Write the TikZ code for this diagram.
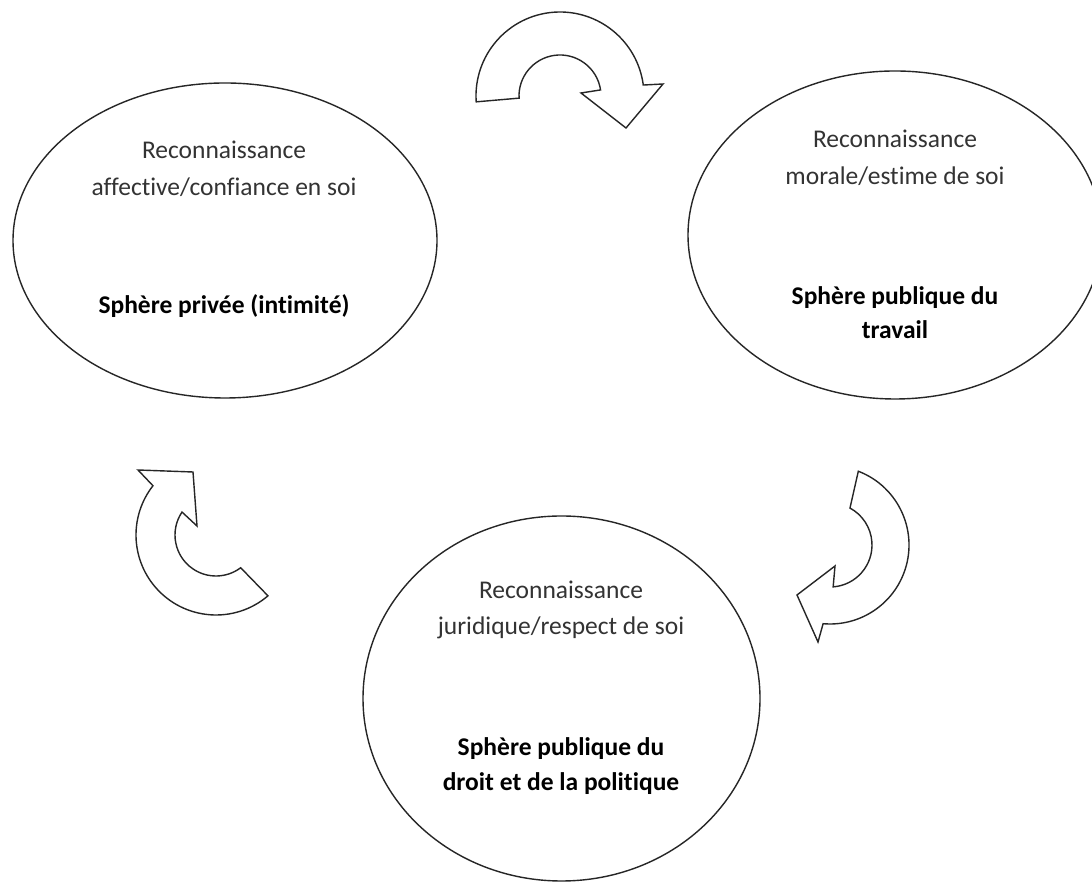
\documentclass[tikz,border=0pt]{standalone}
\usepackage{fontspec}
\setmainfont{Carlito}[Ligatures=NoCommon]
\usetikzlibrary{shapes.geometric}
\begin{document}
\begin{tikzpicture}[x=1pt,y=1pt,
  sphere/.style={draw=black!85, line width=1.4pt, ellipse, inner sep=0pt},
  lighttext/.style={anchor=base, inner sep=0pt, text=black!80, font=\fontsize{25.5}{36}\selectfont},
  boldtext/.style={anchor=base, inner sep=0pt, text=black, font=\fontsize{25.5}{36}\selectfont\bfseries},
  blockarrow/.style={draw=black!85, line width=1.4pt, fill=white, line join=miter}]
\clip (0,0) rectangle (1092,883);
\fill[white] (0,0) rectangle (1092,883);

% the three spheres of recognition
\node[sphere, minimum width=424pt, minimum height=315pt] (prive) at (225,642.5) {};
\node[sphere, minimum width=414pt, minimum height=328pt] (travail) at (895,648) {};
\node[sphere, minimum width=397pt, minimum height=365pt] (droit) at (561.5,184.5) {};

% private sphere
\node[lighttext] (prive1) at (224,724) {Reconnaissance};
\node[lighttext] (prive2) at (224,687) {affective/confiance en soi};
\node[boldtext]  (prive3) at (224,569) {Sphère privée (intimité)};

% public sphere of work
\node[lighttext] (travail1) at (895,735) {Reconnaissance};
\node[lighttext] (travail2) at (895,698) {morale/estime de soi};
\node[boldtext]  (travail3) at (895,578) {Sphère publique du};
\node[boldtext]  (travail4) at (895,544) {travail};

% public sphere of law and politics
\node[lighttext] (droit1) at (561,284) {Reconnaissance};
\node[lighttext] (droit2) at (561,248) {juridique/respect de soi};
\node[boldtext]  (droit3) at (561,127) {Sphère publique du};
\node[boldtext]  (droit4) at (561,92)  {droit et de la politique};

% curved block arrows (centres of their arcs)
\coordinate (c1) at (560,787);
\coordinate (c2) at (216,348);
\coordinate (c3) at (830,338);

% top arrow, turning clockwise
\draw[blockarrow] ([shift={(183:41)}]c1) -- ([shift={(184:84)}]c1)
  arc[start angle=184, end angle=7.5, radius=84]
  -- (663,799) -- (626,755) -- (581,790)
  -- ([shift={(8.5:41)}]c1)
  arc[start angle=8.5, end angle=183, radius=41] -- cycle;

% left arrow, turning upwards
\draw[blockarrow] ([shift={(-53:41)}]c2) -- ([shift={(-49.5:80)}]c2)
  arc[start angle=-49.5, end angle=-218, radius=80]
  -- (138,413) -- (193,411) -- (197,357)
  -- ([shift={(-214:41)}]c2)
  arc[start angle=-214, end angle=-53, radius=41] -- cycle;

% right arrow, turning downwards
\draw[blockarrow] ([shift={(61.6:42)}]c3) -- ([shift={(69:79)}]c3)
  arc[start angle=69, end angle=-95, radius=79]
  -- (818,241) -- (797,288) -- (835,317)
  -- ([shift={(-85.7:42)}]c3)
  arc[start angle=-85.7, end angle=61.6, radius=42] -- cycle;
\end{tikzpicture}
\end{document}
